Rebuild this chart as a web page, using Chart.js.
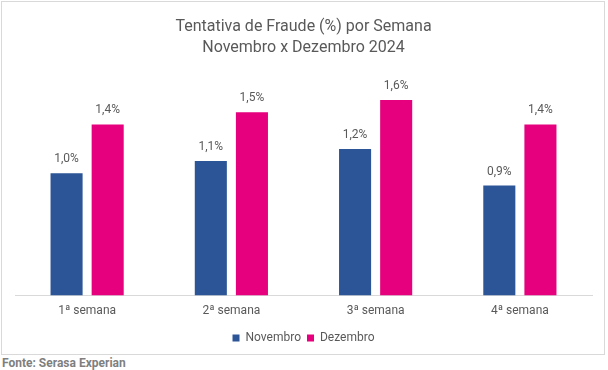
<!DOCTYPE html>
<html>
<head>
<meta charset="utf-8">
<script src="https://cdn.jsdelivr.net/npm/chart.js@4.4.1/dist/chart.umd.min.js"></script>
<style>
  body { margin: 0; background: #fff; font-family: Roboto, sans-serif; }
  #wrap { position: absolute; left: 1px; top: 1px; width: 602px; height: 352px; border: 1px solid #d9d9d9; }
  #fonte { position: absolute; left: 2px; top: 356px; font: bold 12px Roboto, sans-serif; color: #7f7f7f; }
</style>
</head>
<body>
<div id="wrap"><canvas id="chart"></canvas></div>
<div id="fonte">Fonte: Serasa Experian</div>
<script>
// dados
const semanas = ['1ª semana', '2ª semana', '3ª semana', '4ª semana'];
const novembro = [1.0, 1.1, 1.2, 0.9];
const dezembro = [1.4, 1.5, 1.6, 1.4];

// rótulos em cima das barras
const rotulos = {
    id: 'rotulos',
    afterDatasetsDraw(chart) {
        const ctx = chart.ctx;
        ctx.save();
        ctx.font = '12px Roboto';
        ctx.fillStyle = '#595959';
        ctx.textAlign = 'center';
        ctx.textBaseline = 'bottom';
        chart.data.datasets.forEach((ds, i) => {
            chart.getDatasetMeta(i).data.forEach((bar, j) => {
                let txt = ds.data[j].toFixed(1).replace('.', ',') + '%';
                ctx.fillText(txt, bar.x, bar.y - 8);
            });
        });
        ctx.restore();
    }
};

let ctx = document.getElementById('chart').getContext('2d');
let grafico = new Chart(ctx, {
    type: 'bar',
    data: {
        labels: semanas,
        datasets: [
            { label: 'Novembro', data: novembro, backgroundColor: '#2b5597' },
            { label: 'Dezembro', data: dezembro, backgroundColor: '#e6007e' }
        ]
    },
    options: {
        responsive: true,
        maintainAspectRatio: false,
        animation: false,
        categoryPercentage: 0.57,
        barPercentage: 0.78,
        layout: { padding: { left: 13, right: 12, top: 6, bottom: 0 } },
        scales: {
            x: {
                grid: { display: false, drawTicks: false },
                border: { color: '#d9d9d9' },
                ticks: { color: '#595959', font: { family: 'Roboto', size: 12 }, padding: 8 }
            },
            y: { display: false, min: 0, max: 1.77 }
        },
        plugins: {
            title: {
                display: true,
                text: ['Tentativa de Fraude (%) por Semana', 'Novembro x Dezembro 2024'],
                color: '#595959',
                font: { family: 'Roboto', size: 16, weight: 'normal', lineHeight: 1.35 },
                padding: { top: 8, bottom: 20 }
            },
            legend: {
                position: 'bottom',
                labels: {
                    color: '#595959',
                    font: { family: 'Roboto', size: 12 },
                    boxWidth: 7,
                    boxHeight: 7,
                    padding: 6
                }
            },
            tooltip: { enabled: false }
        }
    },
    plugins: [rotulos]
});
</script>
</body>
</html>
